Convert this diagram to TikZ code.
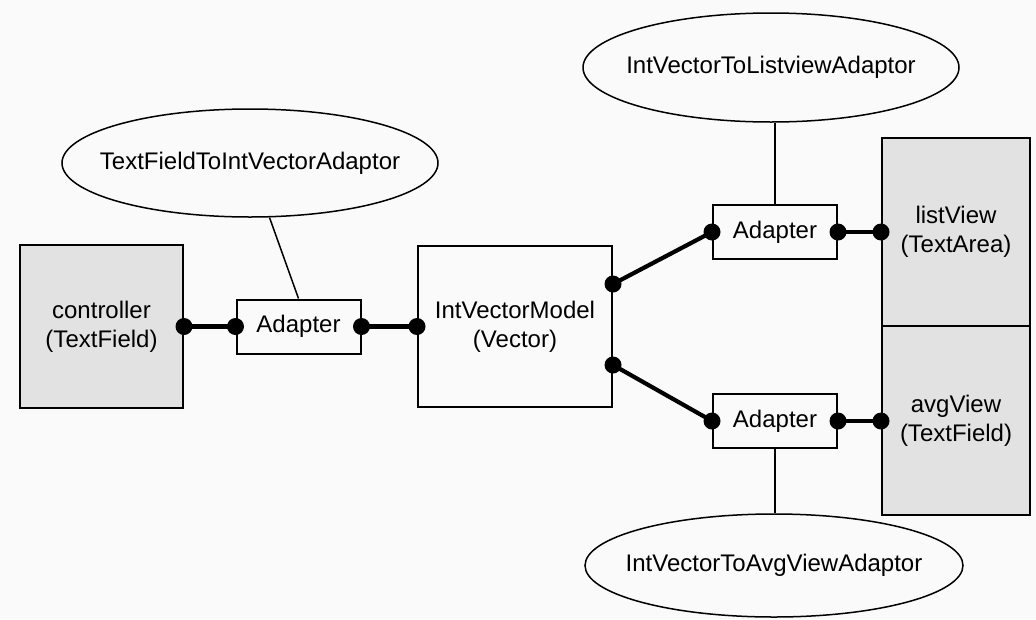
\documentclass[tikz,border=0pt]{standalone}
\usepackage{fontspec}
\setmainfont{Liberation Sans}
\usetikzlibrary{shapes.geometric}

\begin{document}
\begin{tikzpicture}[x=1pt, y=-1pt,
    every node/.style={font=\fontsize{24}{29}\selectfont, align=center},
    obj/.style={draw, line width=2pt, inner sep=0pt},
    view/.style={obj, fill=gray!23, minimum width=148pt},
    adapter/.style={obj, minimum width=124pt, minimum height=54pt},
    adaptor/.style={draw, ellipse, line width=1.5pt, inner sep=0pt},
    link/.style={line width=4.2pt},
    tie/.style={line width=1.5pt}]
\fill[black!2] (0,0) rectangle (1036,619);
\useasboundingbox (0,0) rectangle (1036,619);

\node[view, minimum width=163pt, minimum height=163pt] (controller) at (101.5,326.5) {controller\\(TextField)};
\node[adapter] (ad-in) at (298.5,326.5) {Adapter};
\node[obj, minimum width=194pt, minimum height=161pt] (model) at (515,326.5) {IntVectorModel\\(Vector)};
\node[adapter] (ad-list) at (775,232) {Adapter};
\node[adapter] (ad-avg) at (775,421) {Adapter};
\node[view, minimum height=188pt] (listView) at (956,232) {listView\\(TextArea)};
\node[view, minimum height=189pt] (avgView) at (956,420.5) {avgView\\(TextField)};

\node[adaptor, minimum width=376pt, minimum height=108pt] (tf-adaptor) at (250,163) {\makebox[0pt]{TextFieldToIntVectorAdaptor}};
\node[adaptor, minimum width=376pt, minimum height=109pt] (list-adaptor) at (771,67.5) {\makebox[0pt]{IntVectorToListviewAdaptor}};
\node[adaptor, minimum width=378pt, minimum height=103pt] (avg-adaptor) at (774,565.5) {\makebox[0pt]{IntVectorToAvgViewAdaptor}};

\coordinate (model-up) at ([yshift=42.5pt]model.east);
\coordinate (model-down) at ([yshift=-38.5pt]model.east);
\coordinate (list-port) at (listView.west |- ad-list.east);
\coordinate (avg-port) at (avgView.west |- ad-avg.east);

\draw[tie] (tf-adaptor) -- (ad-in.north);
\draw[tie] (ad-list.north) -- (ad-list.north |- list-adaptor.south);
\draw[tie] (ad-avg.south) -- (ad-avg.south |- avg-adaptor.north);

\draw[link] (controller.east) -- (ad-in.west);
\draw[link] (ad-in.east) -- (model.west);
\draw[link] (model-up) -- (ad-list.west);
\draw[link] (model-down) -- (ad-avg.west);
\draw[link] (ad-list.east) -- (list-port);
\draw[link] (ad-avg.east) -- (avg-port);

\foreach \p in {controller.east, ad-in.west, ad-in.east, model.west, model-up, model-down,
                ad-list.west, ad-list.east, ad-avg.west, ad-avg.east, list-port, avg-port}
  \fill (\p) circle (8.5pt);
\end{tikzpicture}
\end{document}
